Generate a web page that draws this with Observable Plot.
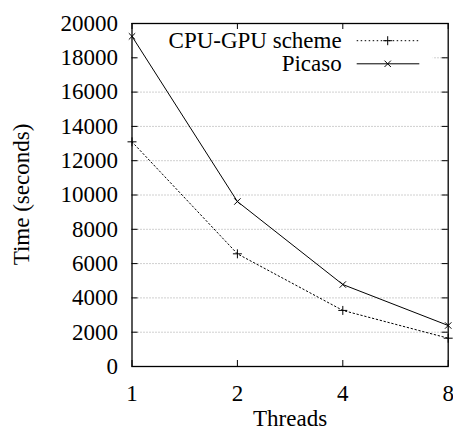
<!DOCTYPE html>
<html>
<head>
<meta charset="utf-8">
<script src="https://cdn.jsdelivr.net/npm/d3@7"></script>
<script src="https://cdn.jsdelivr.net/npm/@observablehq/plot@0.6"></script>
<style>
  html, body { margin: 0; padding: 0; background: white; }
  #chart svg { display: block; }
  #chart svg, #chart svg text { font-family: "Liberation Serif", "DejaVu Serif", serif !important; }
</style>
</head>
<body>
<div id="chart"></div>
<script>
// ---- data ----
const threads = [1, 2, 4, 8];
const cpuGpuTimes = [13100, 6570, 3270, 1650];
const picasoTimes = [19250, 9620, 4780, 2390];
const seriesNames = ["CPU-GPU scheme", "Picaso"];
const yTicks = [0, 2000, 4000, 6000, 8000, 10000, 12000, 14000, 16000, 18000, 20000];
const gridValues = [2000, 4000, 6000, 8000, 10000, 12000, 14000, 16000, 18000];
const xLabel = "Threads";
const yLabel = "Time (seconds)";

const cpuData = threads.map((t, i) => ({t, v: cpuGpuTimes[i]}));
const picData = threads.map((t, i) => ({t, v: picasoTimes[i]}));

const W = 453, H = 436;
const mL = 131.5, mR = 5.3, mT = 23, mB = 70;
const fw = W - mL - mR, fh = H - mT - mB;
const tickLen = 6;
const FONT = "Liberation Serif, DejaVu Serif, serif";

const plot = Plot.plot({
  width: W, height: H,
  marginLeft: mL, marginRight: mR, marginTop: mT, marginBottom: mB,
  style: {fontFamily: FONT, fontSize: "23px", background: "white", color: "black"},
  x: {type: "log", base: 2, domain: [1, 8], axis: null},
  y: {domain: [0, 20000], axis: null},
  marks: [
    Plot.ruleY(gridValues, {stroke: "#a0a0a0", strokeDasharray: "1,2", strokeWidth: 1}),
    // legend box masks the top gridline
    Plot.ruleY([18000], {stroke: "white", strokeWidth: 3, insetLeft: 6, insetRight: 15}),
    // inward ticks (mirrored)
    Plot.tickY(yTicks, {y: d => d, stroke: "black", insetRight: fw - tickLen}),
    Plot.tickY(yTicks, {y: d => d, stroke: "black", insetLeft: fw - tickLen}),
    Plot.tickX(threads, {x: d => d, stroke: "black", insetTop: fh - tickLen}),
    Plot.tickX(threads, {x: d => d, stroke: "black", insetBottom: fh - tickLen}),
    Plot.axisY(yTicks, {tickSize: 0, tickPadding: 14, tickFormat: d3.format("d"), label: null, fontSize: 23}),
    Plot.axisX(threads, {tickSize: 0, tickPadding: 18, tickFormat: d => String(d), label: null, fontSize: 23}),
    Plot.line(cpuData, {x: "t", y: "v", stroke: "black", strokeWidth: 1, strokeDasharray: "1.5,2.5"}),
    Plot.dot(cpuData, {x: "t", y: "v", symbol: "plus", r: 3, stroke: "black", strokeWidth: 1}),
    Plot.line(picData, {x: "t", y: "v", stroke: "black", strokeWidth: 1}),
    Plot.dot(picData, {x: "t", y: "v", symbol: "times", r: 3, stroke: "black", strokeWidth: 1}),
    Plot.frame({stroke: "black", strokeWidth: 1.3}),
    Plot.text([xLabel], {frameAnchor: "bottom", dy: 59.6, fontSize: 23})
  ]
});

const svg = d3.select(plot);
// y axis title
svg.append("text")
  .attr("transform", `translate(22,${mT + fh / 2}) rotate(-90)`)
  .attr("text-anchor", "middle").attr("dy", "0.32em")
  .attr("font-size", 23).attr("fill", "black").text(yLabel);

// ---- legend (top-right, gnuplot style) ----
const leg = svg.append("g").attr("font-size", 23);
const legendRows = [
  {name: seriesNames[0], y: 40.7, dash: "1.5,2.5", sym: d3.symbolPlus},
  {name: seriesNames[1], y: 63.8, dash: null, sym: d3.symbolTimes}
];
legendRows.forEach(r => {
  leg.append("text").attr("x", 341.7).attr("y", r.y).attr("dy", "0.32em")
    .attr("text-anchor", "end").attr("fill", "black").text(r.name);
  const ln = leg.append("line").attr("x1", 356.7).attr("x2", 419.3)
    .attr("y1", r.y).attr("y2", r.y).attr("stroke", "black").attr("stroke-width", 1);
  if (r.dash) ln.attr("stroke-dasharray", r.dash);
  leg.append("path").attr("d", d3.symbol(r.sym, Math.PI * 9)())
    .attr("transform", `translate(387.7,${r.y})`).attr("fill", "none").attr("stroke", "black");
});

document.getElementById("chart").appendChild(plot);
</script>
</body>
</html>
